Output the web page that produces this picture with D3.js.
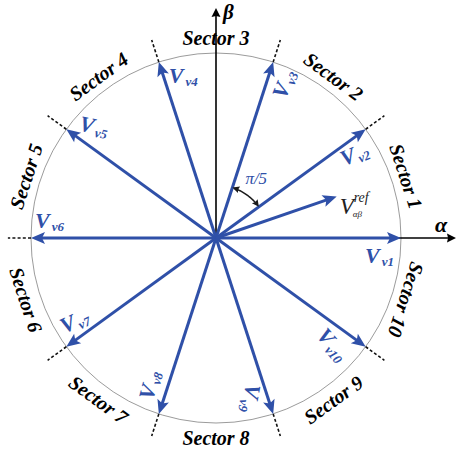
<!DOCTYPE html>
<html>
<head>
<meta charset="utf-8">
<script src="https://cdn.jsdelivr.net/npm/d3@7"></script>
<style>
  html, body { margin: 0; padding: 0; background: #fff; }
  svg { display: block; }
</style>
</head>
<body>
<div id="chart"></div>
<script>
// Ten active voltage vectors of the space-vector diagram (angle in degrees, normalised magnitude)
const vectorNames = ["v1", "v2", "v3", "v4", "v5", "v6", "v7", "v8", "v9", "v10"];
const vectorAngles = [0, 36, 72, 108, 144, 180, 216, 252, 288, 324];
const vectorMagnitudes = [1, 1, 1, 1, 1, 1, 1, 1, 1, 1];

// Sector names and their bisector angles
const sectorLabels = ["Sector 1", "Sector 2", "Sector 3", "Sector 4", "Sector 5",
                      "Sector 6", "Sector 7", "Sector 8", "Sector 9", "Sector 10"];
const sectorAngles = [18, 54, 90, 126, 162, 198, 234, 270, 306, 342];

// Reference vector
const refAngle = 19;
const refMagnitude = 0.69;

// Angle between neighbouring vectors
const stepLabel = "π/5";
const stepFrom = 38, stepTo = 70;

const W = 457, H = 455;
const cx = 216, cy = 238, R = 185;
const blue = "#2f50a8";
const serif = "'Liberation Serif', 'Times New Roman', serif";

const svg = d3.select("#chart").append("svg").attr("width", W).attr("height", H);

const x = d3.scaleLinear().domain([-1, 1]).range([cx - R, cx + R]);
const y = d3.scaleLinear().domain([-1, 1]).range([cy + R, cy - R]);
const rad = d => d * Math.PI / 180;
const px = (m, a) => x(m * Math.cos(rad(a)));
const py = (m, a) => y(m * Math.sin(rad(a)));
const unit = R; // pixels per unit magnitude

// Arrowhead polygon with its tip at (x1,y1), pointing along angle ang
function arrowHead(x1, y1, ang, len, half, notch) {
  const ux = Math.cos(ang), uy = Math.sin(ang);
  const bx = x1 - ux * len, by = y1 - uy * len;
  const nx = -uy, ny = ux;
  const mx = x1 - ux * (len - notch), my = y1 - uy * (len - notch);
  return `M${x1},${y1}L${bx + nx * half},${by + ny * half}L${mx},${my}L${bx - nx * half},${by - ny * half}Z`;
}

// Unit circle
svg.append("circle").attr("cx", x(0)).attr("cy", y(0)).attr("r", x(1) - x(0))
  .attr("fill", "none").attr("stroke", "#909090").attr("stroke-width", 0.9);

// Sector boundaries outside the circle
svg.selectAll("line.bound").data(vectorAngles.filter(a => a !== 0)).join("line")
  .attr("class", "bound")
  .attr("x1", a => px(1, a)).attr("y1", a => py(1, a))
  .attr("x2", a => px(1.125, a)).attr("y2", a => py(1.125, a))
  .attr("stroke", "#111").attr("stroke-width", 1.6).attr("stroke-dasharray", "3,2.2");

// Axes alpha / beta
const axisG = svg.append("g");
axisG.append("line").attr("x1", x(0)).attr("y1", y(0)).attr("x2", 449).attr("y2", y(0))
  .attr("stroke", "#000").attr("stroke-width", 1.6);
axisG.append("path").attr("d", arrowHead(456, y(0), 0, 9, 4.5, 1)).attr("fill", "#000");
axisG.append("line").attr("x1", x(0)).attr("y1", y(0)).attr("x2", x(0)).attr("y2", 16)
  .attr("stroke", "#000").attr("stroke-width", 1.6);
axisG.append("path").attr("d", arrowHead(x(0), 8, -Math.PI / 2, 9, 4.5, 1)).attr("fill", "#000");
axisG.append("text").attr("x", 435).attr("y", 232).text("α")
  .attr("font-family", serif).attr("font-style", "italic").attr("font-weight", "bold")
  .attr("font-size", 22).attr("fill", "#000");
axisG.append("text").attr("x", 223).attr("y", 19).text("β")
  .attr("font-family", serif).attr("font-style", "italic").attr("font-weight", "bold")
  .attr("font-size", 21).attr("fill", "#000");

// Voltage vectors
const vecs = vectorNames.map((n, i) => ({ name: n, angle: vectorAngles[i], mag: vectorMagnitudes[i] }));
const vg = svg.append("g");
vg.selectAll("line").data(vecs).join("line")
  .attr("x1", x(0)).attr("y1", y(0))
  .attr("x2", d => px(d.mag - 10 / unit, d.angle)).attr("y2", d => py(d.mag - 10 / unit, d.angle))
  .attr("stroke", blue).attr("stroke-width", 3);
vg.selectAll("path").data(vecs).join("path")
  .attr("d", d => arrowHead(px(d.mag, d.angle), py(d.mag, d.angle), -rad(d.angle), 14, 6, 3))
  .attr("fill", blue);

// Vector labels: offset (dx, dy) from the tip and text rotation
const labelLayout = {
  v1: { dx: -36, dy: 25, rot: 0 },
  v2: { dx: -22, dy: 37, rot: -22 },
  v3: { dx: 12, dy: 38, rot: -68 },
  v4: { dx: 10, dy: 21, rot: 0 },
  v5: { dx: 12, dy: 1, rot: 12 },
  v6: { dx: 4, dy: -10, rot: 0 },
  v7: { dx: -2, dy: -13, rot: -25 },
  v8: { dx: -6, dy: -13, rot: -75 },
  v9: { dx: -27, dy: -31, rot: 100 },
  v10: { dx: -50, dy: -11, rot: 50 }
};
const lg = svg.append("g");
vecs.forEach(d => {
  const L = labelLayout[d.name];
  const tx = px(d.mag, d.angle) + L.dx, ty = py(d.mag, d.angle) + L.dy;
  const t = lg.append("text")
    .attr("transform", `translate(${tx},${ty}) rotate(${L.rot})`)
    .attr("font-family", serif).attr("font-style", "italic").attr("font-weight", "bold")
    .attr("fill", blue);
  t.append("tspan").attr("font-size", 22).text("V");
  t.append("tspan").attr("font-size", 13).attr("dx", 2).attr("dy", 3).text(d.name);
});

// Sector labels placed tangentially outside the circle
svg.append("g").selectAll("text").data(sectorLabels.map((s, i) => ({ s, a: sectorAngles[i] }))).join("text")
  .attr("transform", d => {
    let r = 90 - d.a;
    if (d.a > 180 && d.a < 320) r += 180;
    return `translate(${px(1.08, d.a)},${py(1.08, d.a)}) rotate(${r})`;
  })
  .attr("text-anchor", "middle").attr("dominant-baseline", "central")
  .attr("font-family", serif).attr("font-style", "italic").attr("font-weight", "bold")
  .attr("font-size", 20).attr("fill", "#000")
  .text(d => d.s);

// Reference vector
const rx = px(refMagnitude, refAngle), ry = py(refMagnitude, refAngle);
svg.append("line").attr("x1", x(0)).attr("y1", y(0))
  .attr("x2", px(refMagnitude - 9 / unit, refAngle)).attr("y2", py(refMagnitude - 9 / unit, refAngle))
  .attr("stroke", blue).attr("stroke-width", 3);
svg.append("path").attr("d", arrowHead(rx, ry, -rad(refAngle), 14, 6, 3)).attr("fill", blue);
const refG = svg.append("g").attr("font-family", serif).attr("font-style", "italic").attr("fill", "#222");
refG.append("text").attr("x", rx + 3).attr("y", ry + 18).attr("font-size", 23).text("V");
refG.append("text").attr("x", rx + 17).attr("y", ry + 6).attr("font-size", 14).text("ref");
refG.append("text").attr("x", rx + 16).attr("y", ry + 21).attr("font-size", 9).text("αβ");

// Angle between adjacent vectors
const arcR = 53 / unit;
const arcPts = d3.range(stepFrom, stepTo + 0.01, 1).map(a => [px(arcR, a), py(arcR, a)]);
svg.append("path").attr("d", d3.line()(arcPts)).attr("fill", "none")
  .attr("stroke", "#1a1a1a").attr("stroke-width", 1.5);
svg.append("path").attr("d", arrowHead(px(arcR, stepFrom - 2), py(arcR, stepFrom - 2),
  rad(-(stepFrom - 2) + 90), 7, 3.5, 1)).attr("fill", "#1a1a1a");
svg.append("path").attr("d", arrowHead(px(arcR, stepTo + 2), py(arcR, stepTo + 2),
  rad(-(stepTo + 2) - 90), 7, 3.5, 1)).attr("fill", "#1a1a1a");
svg.append("text").attr("x", px(72 / unit, 56)).attr("y", py(72 / unit, 56))
  .attr("text-anchor", "middle").attr("dominant-baseline", "central")
  .attr("font-family", serif).attr("font-style", "italic").attr("font-size", 17)
  .attr("fill", blue).text(stepLabel);
</script>
</body>
</html>
